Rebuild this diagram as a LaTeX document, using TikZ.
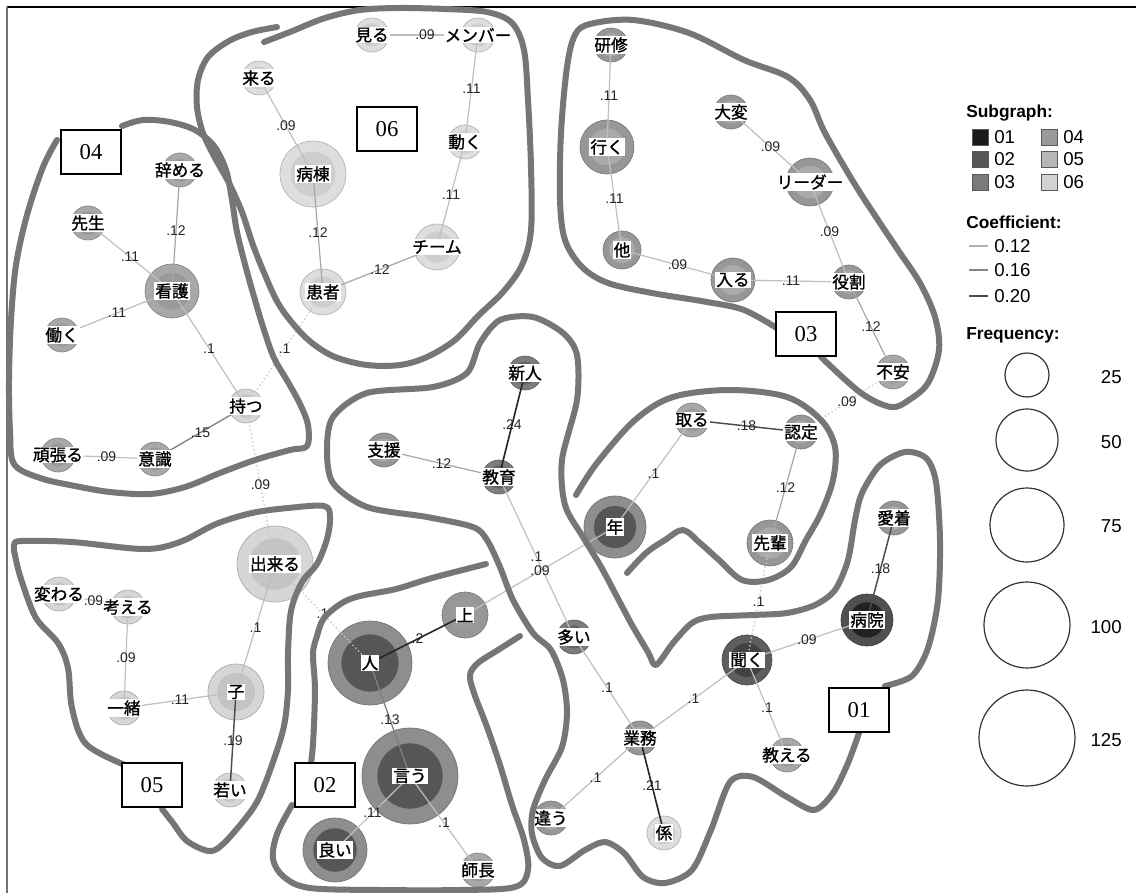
\documentclass[tikz,border=0pt]{standalone}
\usepackage{fontspec}
\setmainfont{Liberation Sans}
\newfontfamily\jpf[RawFeature={embolden=1.2}]{Noto Sans CJK JP}
\newfontfamily\boxf{Liberation Serif}
\definecolor{ol}{HTML}{767676}
\definecolor{c1o}{HTML}{505050}\definecolor{c1i}{HTML}{222222}
\definecolor{ckO}{HTML}{5E5E5E}\definecolor{ckI}{HTML}{424242}
\definecolor{c2o}{HTML}{8E8E8E}\definecolor{c2i}{HTML}{565656}
\definecolor{c3o}{HTML}{979797}\definecolor{c3i}{HTML}{AAAAAA}
\definecolor{c4o}{HTML}{A8A8A8}\definecolor{c4i}{HTML}{9A9A9A}
\definecolor{c5o}{HTML}{D6D6D6}\definecolor{c5i}{HTML}{C4C4C4}
\definecolor{c6o}{HTML}{DEDEDE}\definecolor{c6i}{HTML}{CECECE}
\definecolor{gA}{HTML}{7C7C7C}\definecolor{gAi}{HTML}{636363}
\definecolor{s01}{HTML}{1A1A1A}\definecolor{s02}{HTML}{555555}
\definecolor{s03}{HTML}{7A7A7A}\definecolor{s04}{HTML}{9A9A9A}
\definecolor{s05}{HTML}{B6B6B6}\definecolor{s06}{HTML}{D2D2D2}
\newcommand\gnode[6]{%
  \node[circle, inner sep=0pt, minimum size={1.5*#4 pt}, fill=#5, draw=#5!80!black, line width=0.5pt] (#1) at (#2,#3) {};
  \fill[#6] (#1.center) circle[radius={0.51*#4 pt}];}
\newcommand\glab[2]{\node[lab] (#1-t) at (#1) {#2};}
\newcommand\eg[4]{\draw[#1] (#2.center) -- node[elab]{#4} (#3.center);}
\begin{document}
\begin{tikzpicture}[x=0.75pt,y=-0.75pt,
  lab/.style={fill=white, inner sep=0.8pt, text=black, font=\jpf\fontsize{12.5}{13}\selectfont},
  elab/.style={inner sep=0.5pt, text=black!85, font=\fontsize{10.5}{11}\selectfont},
  e1/.style={draw=black!25, line width=0.9pt},
  e2/.style={draw=black!35, line width=0.9pt},
  e3/.style={draw=black!50, line width=1pt},
  e4/.style={draw=black!70, line width=1.1pt},
  e5/.style={draw=black!85, line width=1.2pt},
  ed/.style={draw=black!22, line width=1pt, dotted},
  outl/.style={draw=ol, line width=4.5pt, line cap=round, line join=round},
  boxlab/.style={draw=black, line width=0.8pt, fill=white, minimum width=45pt, minimum height=33pt, inner sep=0pt, font=\boxf\fontsize{17}{17}\selectfont},
  sq/.style={minimum size=12pt, inner sep=0pt, draw=black!65, line width=0.6pt},
  ltext/.style={anchor=west, inner sep=0pt, font=\fontsize{14}{15}\selectfont},
  lhead/.style={anchor=west, inner sep=0pt, font=\bfseries\fontsize{13}{14}\selectfont},
  fcirc/.style={circle, draw=black!80, line width=0.9pt, inner sep=0pt}]
\useasboundingbox (0,0) rectangle (1136,893);
\fill[white] (0,0) rectangle (1136,893);
\draw[black, line width=1.4pt] (7,7) -- (1136,7);
\draw[black!55, line width=1.1pt] (7,7) -- (7,893);
% nodes (circles)
\gnode{miru}{372}{35}{17}{c6o}{c6i}
\gnode{member}{478}{35}{17}{c6o}{c6i}
\gnode{kuru}{259}{78}{17}{c6o}{c6i}
\gnode{ugoku}{465}{142}{17}{c6o}{c6i}
\gnode{byoto}{313}{174}{33}{c6o}{c6i}
\gnode{team}{437}{247}{23}{c6o}{c6i}
\gnode{kanja}{323}{292}{23}{c6o}{c6i}
\gnode{yameru}{180}{170}{17}{c4o}{c4i}
\gnode{sensei}{88}{223}{17}{c4o}{c4i}
\gnode{kango}{172}{291}{27}{c4o}{c4i}
\gnode{hataraku}{62}{335}{17}{c4o}{c4i}
\gnode{motsu}{246}{406}{17}{c5o}{c5i}
\gnode{ganbaru}{58}{455}{17}{c4o}{c4i}
\gnode{ishiki}{155}{459}{17}{c4o}{c4i}
\gnode{dekiru}{275}{564}{38}{c5o}{c5i}
\gnode{kawaru}{59}{594}{17}{c5o}{c5i}
\gnode{kangaeru}{128}{607}{17}{c5o}{c5i}
\gnode{issho}{124}{708}{17}{c5o}{c5i}
\gnode{ko}{236}{692}{28}{c5o}{c5i}
\gnode{wakai}{230}{790}{17}{c5o}{c5i}
\gnode{hito}{370}{663}{42}{c2o}{c2i}
\gnode{ue}{465}{615}{23}{c3o}{c4i}
\gnode{iu}{410}{776}{48}{c2o}{c2i}
\gnode{yoi}{335}{850}{32}{c2o}{c2i}
\gnode{shicho}{478}{870}{17}{c4o}{c4i}
\gnode{shinjin}{525}{373}{17}{gA}{gAi}
\gnode{shien}{384}{450}{17}{c3o}{c3i}
\gnode{kyoiku}{499}{477}{17}{gA}{gAi}
\gnode{nen}{615}{527}{31}{c2o}{c2i}
\gnode{oi}{574}{637}{17}{gA}{gAi}
\gnode{gyomu}{640}{738}{17}{c3o}{c3i}
\gnode{chigau}{551}{818}{17}{c3o}{c3i}
\gnode{kakari}{664}{833}{17}{c6o}{c6i}
\gnode{kiku}{747}{660}{25}{ckO}{ckI}
\gnode{oshieru}{787}{755}{17}{c4o}{c4i}
\gnode{byoin}{867}{620}{26}{c1o}{c1i}
\gnode{aichaku}{894}{518}{17}{c3o}{c3i}
\gnode{toru}{692}{420}{17}{c4o}{c4i}
\gnode{nintei}{801}{432}{17}{c3o}{c3i}
\gnode{senpai}{770}{543}{23}{c3o}{c3i}
\gnode{kenshu}{611}{45}{17}{c3o}{c3i}
\gnode{iku}{607}{147}{27}{c3o}{c3i}
\gnode{taihen}{731}{112}{17}{c3o}{c3i}
\gnode{leader}{810}{182}{24}{c3o}{c3i}
\gnode{hoka}{622}{250}{19}{c3o}{c3i}
\gnode{hairu}{733}{280}{22}{c3o}{c3i}
\gnode{yakuwari}{849}{282}{17}{c3o}{c3i}
\gnode{fuan}{893}{372}{17}{c4o}{c4i}
% edges
\eg{e1}{miru}{member}{.09}
\eg{e1}{member}{ugoku}{.11}
\eg{e1}{ugoku}{team}{.11}
\eg{e1}{kuru}{byoto}{.09}
\eg{e2}{byoto}{kanja}{.12}
\eg{e2}{kanja}{team}{.12}
\eg{ed}{kanja}{motsu}{.1}
\eg{e2}{yameru}{kango}{.12}
\eg{e1}{sensei}{kango}{.11}
\eg{e1}{hataraku}{kango}{.11}
\eg{e1}{kango}{motsu}{.1}
\eg{e3}{motsu}{ishiki}{.15}
\eg{e1}{ganbaru}{ishiki}{.09}
\eg{ed}{motsu}{dekiru}{.09}
\eg{e1}{dekiru}{ko}{.1}
\eg{e1}{kawaru}{kangaeru}{.09}
\eg{e1}{kangaeru}{issho}{.09}
\eg{e1}{issho}{ko}{.11}
\eg{e4}{ko}{wakai}{.19}
\eg{ed}{dekiru}{hito}{.1}
\eg{e5}{hito}{ue}{.2}
\eg{e3}{hito}{iu}{.13}
\eg{e1}{iu}{yoi}{.11}
\eg{e1}{iu}{shicho}{.1}
\eg{e5}{shinjin}{kyoiku}{.24}
\eg{e2}{shien}{kyoiku}{.12}
\eg{e1}{kyoiku}{oi}{.1}
\eg{e1}{ue}{nen}{.09}
\eg{e1}{nen}{toru}{.1}
\eg{e4}{toru}{nintei}{.18}
\eg{e2}{nintei}{senpai}{.12}
\eg{ed}{senpai}{kiku}{.1}
\eg{e1}{kiku}{byoin}{.09}
\eg{e4}{aichaku}{byoin}{.18}
\eg{e1}{kiku}{oshieru}{.1}
\eg{e1}{kiku}{gyomu}{.1}
\eg{e1}{oi}{gyomu}{.1}
\eg{e1}{gyomu}{chigau}{.1}
\eg{e5}{gyomu}{kakari}{.21}
\eg{ed}{fuan}{nintei}{.09}
\eg{e1}{kenshu}{iku}{.11}
\eg{e1}{iku}{hoka}{.11}
\eg{e1}{hoka}{hairu}{.09}
\eg{e1}{hairu}{yakuwari}{.11}
\eg{e1}{taihen}{leader}{.09}
\eg{e1}{leader}{yakuwari}{.09}
\eg{e2}{yakuwari}{fuan}{.12}
% labels
\glab{miru}{見る}\glab{member}{メンバー}\glab{kuru}{来る}\glab{ugoku}{動く}
\glab{byoto}{病棟}\glab{team}{チーム}\glab{kanja}{患者}
\glab{yameru}{辞める}\glab{sensei}{先生}\glab{kango}{看護}\glab{hataraku}{働く}
\glab{motsu}{持つ}\glab{ganbaru}{頑張る}\glab{ishiki}{意識}
\glab{dekiru}{出来る}\glab{kawaru}{変わる}\glab{kangaeru}{考える}\glab{issho}{一緒}
\glab{ko}{子}\glab{wakai}{若い}
\glab{hito}{人}\glab{ue}{上}\glab{iu}{言う}\glab{yoi}{良い}\glab{shicho}{師長}
\glab{shinjin}{新人}\glab{shien}{支援}\glab{kyoiku}{教育}\glab{nen}{年}\glab{oi}{多い}
\glab{gyomu}{業務}\glab{chigau}{違う}\glab{kakari}{係}\glab{kiku}{聞く}\glab{oshieru}{教える}
\glab{byoin}{病院}\glab{aichaku}{愛着}\glab{toru}{取る}\glab{nintei}{認定}\glab{senpai}{先輩}
\glab{kenshu}{研修}\glab{iku}{行く}\glab{taihen}{大変}\glab{leader}{リーダー}\glab{hoka}{他}
\glab{hairu}{入る}\glab{yakuwari}{役割}\glab{fuan}{不安}
% hand-drawn outlines
\draw[outl] plot[smooth, tension=0.55] coordinates {(264,42) (290,32) (325,18) (360,10) (398,8) (445,9) (487,12) (512,23) (524,50) (528,100) (531,167) (531,230) (522,265) (503,292) (478,316) (455,340) (427,357) (400,365) (367,365) (335,357) (312,343) (294,325) (278,303) (265,275) (253,245) (242,212) (229,183) (215,158) (203,133) (197,107) (198,80) (208,57) (229,41) (252,32) (277,27)};
\draw[outl] plot[smooth, tension=0.55] coordinates {(57,140) (43,167) (27,215) (16,265) (11,320) (9,380) (10,430) (14,464) (40,478) (75,486) (110,492) (150,494) (185,487) (220,473) (255,460) (290,450) (307,446) (308,425) (300,404) (288,382) (274,358) (264,330) (255,300) (246,268) (237,232) (232,200) (226,170) (214,146) (195,130) (170,122) (143,120) (122,126)};
\draw[outl] plot[smooth, tension=0.55] coordinates {(125,765) (86,744) (72,708) (68,668) (58,643) (36,618) (22,582) (16,560) (14,545) (22,541) (72,542) (144,549) (180,542) (216,524) (252,513) (288,508) (324,506) (330,517) (327,539) (317,564) (302,582) (291,611) (288,654) (288,690) (284,726) (273,762) (259,798) (245,819) (223,844) (209,851) (187,841) (173,823) (162,809)};
\draw[outl] plot[smooth, tension=0.55] coordinates {(486,564) (432,578) (396,589) (360,596) (342,603) (324,618) (317,636) (313,654) (315,690) (313,744) (310,770)};
\draw[outl] plot[smooth, tension=0.55] coordinates {(292,805) (277,834) (273,859) (284,877) (310,888) (380,890) (460,890) (515,887) (528,870) (524,840) (512,805) (500,765) (487,727) (474,693) (470,675) (478,663) (498,650) (520,636)};
\draw[outl] plot[smooth, tension=0.5] coordinates {(885,686) (912,676) (928,648) (938,600) (940,540) (936,482) (926,458) (905,452) (880,465) (862,493) (855,520) (848,560) (835,590) (815,605) (787,613) (753,615) (711,617) (692,623) (673,643) (656,665) (648,652) (632,625) (615,593) (600,565) (583,537) (565,505) (562,460) (577,400) (577,355) (563,333) (533,317) (500,320) (480,343) (467,373) (433,387) (367,393) (333,417) (327,450) (333,483) (367,507) (427,517) (473,527) (487,540) (500,567) (513,600) (533,633) (551,650) (563,680) (567,713) (562,747) (545,780) (533,810) (532,834) (542,858) (560,866) (585,850) (605,842) (624,853) (643,877) (665,883) (692,870) (711,830) (730,782) (753,777) (787,797) (814,810) (833,793) (848,763) (859,733)};
\draw[outl] plot[smooth, tension=0.55] coordinates {(821,357) (861,393) (891,407) (909,400) (928,383) (939,350) (935,317) (920,283) (898,250) (876,217) (854,183) (825,133) (810,100) (788,77) (744,60) (689,33) (633,20) (590,24) (575,35) (567,67) (561,133) (560,200) (565,240) (582,267) (608,283) (652,293) (707,302) (744,310) (780,330)};
\draw[outl] plot[smooth, tension=0.55] coordinates {(576,495) (597,463) (635,420) (673,397) (730,390) (787,397) (821,420) (835,447) (833,480) (821,513) (806,540) (791,567) (768,580) (742,580) (719,560) (700,543) (683,530) (665,540) (646,553) (627,573)};
% group boxes
\node[boxlab] (b04) at (91,152) {04};
\node[boxlab] (b06) at (387,129) {06};
\node[boxlab] (b03) at (806,334) {03};
\node[boxlab] (b01) at (859,710) {01};
\node[boxlab] (b05) at (152,785) {05};
\node[boxlab] (b02) at (325,785) {02};
% legend
\node[lhead] (lsub) at (966,113) {Subgraph:};
\node[sq, fill=s01] (q1) at (980,137) {}; \node[ltext] (t1) at (994,137) {01};
\node[sq, fill=s02] (q2) at (980,159) {}; \node[ltext] (t2) at (994,159) {02};
\node[sq, fill=s03] (q3) at (980,182) {}; \node[ltext] (t3) at (994,182) {03};
\node[sq, fill=s04] (q4) at (1049,137) {}; \node[ltext] (t4) at (1063,137) {04};
\node[sq, fill=s05] (q5) at (1049,159) {}; \node[ltext] (t5) at (1063,159) {05};
\node[sq, fill=s06] (q6) at (1049,182) {}; \node[ltext] (t6) at (1063,182) {06};
\node[lhead] (lcoef) at (966,222) {Coefficient:};
\coordinate (ka) at (969,246); \coordinate (kb) at (988,246);
\coordinate (kc) at (969,270); \coordinate (kd) at (988,270);
\coordinate (ke) at (969,296); \coordinate (kf) at (988,296);
\draw[draw=black!30, line width=1.3pt] (ka) -- (kb);
\draw[draw=black!48, line width=1.6pt] (kc) -- (kd);
\draw[draw=black!70, line width=1.6pt] (ke) -- (kf);
\node[ltext] (k1) at (994,246) {0.12};
\node[ltext] (k2) at (994,270) {0.16};
\node[ltext] (k3) at (994,296) {0.20};
\node[lhead] (lfreq) at (966,335) {Frequency:};
\node[fcirc, minimum size=33pt] (f1) at (1027,375) {};
\node[fcirc, minimum size=46.5pt] (f2) at (1027,440) {};
\node[fcirc, minimum size=55.5pt] (f3) at (1027,525) {};
\node[fcirc, minimum size=64.5pt] (f4) at (1027,625) {};
\node[fcirc, minimum size=72pt] (f5) at (1027,738) {};
\node[ltext, anchor=east] (n1) at (1122,377) {25};
\node[ltext, anchor=east] (n2) at (1122,442) {50};
\node[ltext, anchor=east] (n3) at (1122,526) {75};
\node[ltext, anchor=east] (n4) at (1122,627) {100};
\node[ltext, anchor=east] (n5) at (1122,740) {125};
\end{tikzpicture}
\end{document}
